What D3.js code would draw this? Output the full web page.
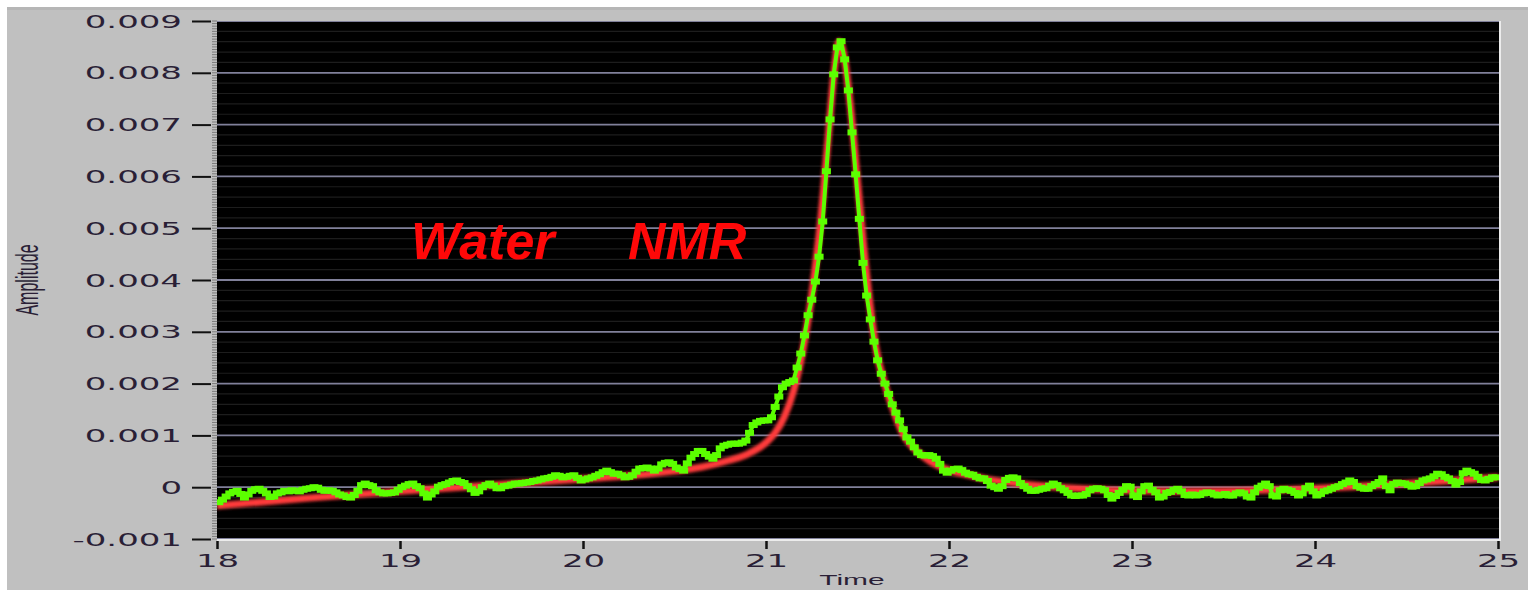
<!DOCTYPE html>
<html>
<head>
<meta charset="utf-8">
<script src="https://cdn.jsdelivr.net/npm/d3@7"></script>
<style>
  html, body { margin: 0; padding: 0; background: #c0c0c0; overflow: hidden; }
  svg { display: block; }
</style>
</head>
<body>
<svg id="chart" width="1528" height="590"></svg>
<script>
// ---- axis ticks ----
const xTickValues = [18, 19, 20, 21, 22, 23, 24, 25];
const xTickLabels = ["18", "19", "20", "21", "22", "23", "24", "25"];
// amplitude is kept in units of 1e-3
const yTickValues = [-1, 0, 1, 2, 3, 4, 5, 6, 7, 8, 9];
const yTickLabels = ["-0.001", "0", "0.001", "0.002", "0.003", "0.004",
                     "0.005", "0.006", "0.007", "0.008", "0.009"];

// ---- measured echo signal (green), sampled every 0.02 from t = 18.01 ----
const measuredStart = 18.01;
const measuredStep = 0.02;
const measuredAmp = [
  -0.29,-0.24,-0.18,-0.12,-0.09,-0.07,-0.13,-0.20,-0.14,-0.07,
  -0.04,-0.03,-0.07,-0.12,-0.19,-0.18,-0.12,-0.10,-0.07,-0.08,
  -0.06,-0.07,-0.08,-0.05,-0.03,-0.02,0.00,-0.01,-0.05,-0.07,
  -0.06,-0.07,-0.10,-0.14,-0.16,-0.19,-0.20,-0.15,-0.07,0.04,
  0.07,0.04,0.02,-0.06,-0.10,-0.12,-0.12,-0.11,-0.10,-0.05,
  0.00,0.03,0.06,0.07,0.02,-0.02,-0.12,-0.20,-0.14,-0.08,
  0.01,0.04,0.06,0.09,0.12,0.13,0.10,0.08,0.02,-0.04,
  -0.11,-0.08,0.00,0.04,0.07,0.03,-0.02,-0.02,0.02,0.03,
  0.05,0.07,0.07,0.08,0.09,0.10,0.12,0.13,0.15,0.17,
  0.18,0.20,0.23,0.22,0.19,0.20,0.22,0.23,0.18,0.13,
  0.15,0.17,0.19,0.22,0.25,0.29,0.32,0.29,0.26,0.26,
  0.23,0.19,0.20,0.23,0.30,0.36,0.37,0.38,0.36,0.32,
  0.36,0.44,0.47,0.48,0.45,0.38,0.35,0.32,0.46,0.57,
  0.64,0.70,0.70,0.64,0.59,0.55,0.62,0.75,0.80,0.82,
  0.84,0.84,0.84,0.86,0.90,1.05,1.20,1.25,1.28,1.29,
  1.29,1.35,1.55,1.75,1.93,2.00,2.03,2.06,2.31,2.58,
  2.93,3.32,3.62,3.97,4.45,5.13,6.10,7.10,7.97,8.49,
  8.61,8.26,7.66,6.85,6.04,5.18,4.33,3.70,3.24,2.81,
  2.45,2.19,2.00,1.80,1.60,1.44,1.29,1.12,0.96,0.88,
  0.77,0.67,0.62,0.61,0.62,0.60,0.55,0.45,0.32,0.28,
  0.32,0.35,0.36,0.33,0.28,0.25,0.24,0.20,0.17,0.17,
  0.12,0.03,0.00,-0.03,0.02,0.14,0.18,0.19,0.17,0.08,
  0.02,-0.03,-0.07,-0.07,-0.05,-0.03,-0.02,0.03,0.07,0.04,
  -0.02,-0.06,-0.11,-0.16,-0.17,-0.16,-0.16,-0.13,-0.06,-0.03,
  -0.02,-0.03,-0.06,-0.15,-0.22,-0.17,-0.11,-0.05,0.02,0.01,
  -0.16,-0.19,-0.08,0.02,0.03,-0.05,-0.10,-0.20,-0.18,-0.11,
  -0.09,-0.05,-0.03,-0.08,-0.15,-0.16,-0.14,-0.16,-0.15,-0.12,
  -0.10,-0.11,-0.14,-0.16,-0.15,-0.13,-0.16,-0.16,-0.12,-0.10,
  -0.12,-0.18,-0.20,-0.10,-0.01,0.03,0.07,0.02,-0.16,-0.18,
  -0.06,-0.03,-0.05,-0.07,-0.11,-0.16,-0.12,-0.02,0.03,-0.08,
  -0.16,-0.13,-0.08,-0.06,-0.03,0.00,0.02,0.06,0.09,0.13,
  0.10,0.02,-0.01,-0.03,-0.03,0.02,0.06,0.10,0.17,0.02,
  -0.06,0.06,0.09,0.08,0.07,0.04,0.01,0.02,0.08,0.13,
  0.15,0.17,0.21,0.26,0.25,0.20,0.17,0.12,0.05,0.10,
  0.27,0.32,0.29,0.26,0.20,0.14,0.13,0.16,0.19,0.19
];

// ---- fitted line shape (red) ----
const fitTime = [18.0, 18.5, 19.0, 19.5, 20.0, 20.25, 20.5, 20.65, 20.8, 20.9,
                 21.0, 21.05, 21.1, 21.15, 21.2, 21.25, 21.3, 21.34, 21.37, 21.4,
                 21.43, 21.46, 21.5, 21.55, 21.6, 21.65, 21.7, 21.75, 21.8, 21.85,
                 21.9, 22.0, 22.1, 22.2, 22.4, 22.6, 22.8, 23.0, 23.3, 23.6,
                 23.9, 24.2, 24.5, 24.8, 25.0];
const fitAmp  = [-0.36, -0.21, -0.08, 0.04, 0.16, 0.22, 0.31, 0.39, 0.52, 0.64,
                 0.86, 1.05, 1.36, 1.85, 2.62, 3.72, 5.20, 6.75, 7.95, 8.60,
                 8.25, 7.40, 5.90, 4.10, 2.70, 1.98, 1.45, 1.02, 0.78, 0.62,
                 0.49, 0.33, 0.24, 0.16, 0.06, 0.00, -0.04, -0.07, -0.08, -0.07,
                 -0.04, 0.01, 0.07, 0.14, 0.19];

const annotationWords = ["Water", "NMR"];

// ---- layout ----
const W = 1528, H = 590;
const plot = { left: 217, right: 1499, top: 21, bottom: 539 };

const svg = d3.select("#chart");
const x = d3.scaleLinear().domain([18, 25]).range([plot.left, plot.right - 1]);
const y = d3.scaleLinear().domain([-1, 9]).range([plot.bottom, plot.top]);

// panel background and window edges
svg.append("rect").attr("width", W).attr("height", H).attr("fill", "#c0c0c0");
svg.append("rect").attr("x", 0).attr("y", 7).attr("width", W).attr("height", 3).attr("fill", "#b6b6b6");
svg.append("rect").attr("x", 0).attr("y", 0).attr("width", W).attr("height", 7).attr("fill", "#ffffff");
svg.append("rect").attr("x", 0).attr("y", 0).attr("width", 7).attr("height", H).attr("fill", "#ffffff");

const defs = svg.append("defs");
defs.append("clipPath").attr("id", "plotClip")
  .append("rect").attr("x", plot.left).attr("y", plot.top)
  .attr("width", plot.right - plot.left).attr("height", plot.bottom - plot.top);
const glow = defs.append("filter").attr("id", "soft")
  .attr("x", "-5%").attr("y", "-5%").attr("width", "110%").attr("height", "110%");
glow.append("feGaussianBlur").attr("stdDeviation", 1.4);
const softLine = defs.append("filter").attr("id", "softLine");
softLine.append("feGaussianBlur").attr("stdDeviation", 0.5);

// plot area
svg.append("rect")
  .attr("x", plot.left).attr("y", plot.top)
  .attr("width", plot.right - plot.left).attr("height", plot.bottom - plot.top)
  .attr("fill", "#000");

const grid = svg.append("g").attr("clip-path", "url(#plotClip)");

// minor grid (5 divisions per major step)
const minorX = d3.range(18, 25.0001, 0.2).filter(v => Math.abs(v - Math.round(v)) > 1e-6);
const minorY = d3.range(-1, 9.0001, 0.2).filter(v => Math.abs(v - Math.round(v)) > 1e-6);
grid.selectAll(".mx").data(minorX).join("line")
  .attr("x1", d => x(d)).attr("x2", d => x(d))
  .attr("y1", plot.top).attr("y2", plot.bottom)
  .attr("stroke", "#2e2e2e").attr("stroke-width", 3.5).attr("filter", "url(#softLine)");
grid.selectAll(".my").data(minorY).join("line")
  .attr("x1", plot.left).attr("x2", plot.right)
  .attr("y1", d => y(d)).attr("y2", d => y(d))
  .attr("stroke", "#1d1d1d").attr("stroke-width", 1.2);

// major grid
grid.selectAll(".gx").data(xTickValues).join("line")
  .attr("x1", d => x(d)).attr("x2", d => x(d))
  .attr("y1", plot.top).attr("y2", plot.bottom)
  .attr("stroke", "#8686a4").attr("stroke-width", 3.5).attr("filter", "url(#softLine)");
grid.selectAll(".gy").data(yTickValues).join("line")
  .attr("x1", plot.left).attr("x2", plot.right)
  .attr("y1", d => y(d)).attr("y2", d => y(d))
  .attr("stroke", "#80809a").attr("stroke-width", 1.8);

// fine ruler marks along the left edge of the plot
const ruler = d3.range(-1, 9.0001, 0.05);
svg.append("g").selectAll("line").data(ruler).join("line")
  .attr("x1", 212).attr("x2", 217)
  .attr("y1", d => y(d)).attr("y2", d => y(d))
  .attr("stroke", "#7a7a7a").attr("stroke-width", 1);

// frame highlight (right and bottom)
svg.append("line").attr("x1", plot.right + 1).attr("x2", plot.right + 1)
  .attr("y1", plot.top).attr("y2", plot.bottom + 2)
  .attr("stroke", "#ececec").attr("stroke-width", 2);
svg.append("line").attr("x1", plot.left).attr("x2", plot.right + 2)
  .attr("y1", plot.bottom + 1).attr("y2", plot.bottom + 1)
  .attr("stroke", "#ececec").attr("stroke-width", 2);

// ---- series ----
const series = svg.append("g").attr("clip-path", "url(#plotClip)");

const fitPoints = fitTime.map((t, i) => [t, fitAmp[i]]);
const fitLine = d3.line().x(d => x(d[0])).y(d => y(d[1])).curve(d3.curveMonotoneX);
series.append("path").datum(fitPoints)
  .attr("d", fitLine)
  .attr("fill", "none").attr("stroke", "#ff3a3a")
  .attr("stroke-width", 7).attr("stroke-linejoin", "round")
  .attr("filter", "url(#soft)");

const measuredPoints = measuredAmp.map((v, i) => [measuredStart + i * measuredStep, v]);
const measLine = d3.line().x(d => x(d[0])).y(d => y(d[1]));
series.append("path").datum(measuredPoints)
  .attr("d", measLine)
  .attr("fill", "none").attr("stroke", "#5cff00")
  .attr("stroke-width", 4).attr("stroke-linejoin", "round");
series.selectAll(".mk").data(measuredPoints).join("rect")
  .attr("x", d => x(d[0]) - 4.5).attr("y", d => y(d[1]) - 3)
  .attr("width", 9).attr("height", 6)
  .attr("fill", "#5cff00");

// ---- annotations ----
svg.selectAll(".note").data(annotationWords).join("text")
  .attr("x", (d, i) => [411, 628][i])
  .attr("y", 259)
  .attr("font-family", "Liberation Sans, Arial, sans-serif")
  .attr("font-weight", "bold").attr("font-style", "italic")
  .attr("font-size", 52)
  .attr("fill", "#ff0808")
  .text(d => d);

// ---- axes ----
const textColor = "#2a1f36";

const gY = svg.append("g").attr("transform", "translate(211,0)")
  .call(d3.axisLeft(y).tickValues(yTickValues).tickSize(19)
        .tickFormat((d, i) => yTickLabels[i]));
gY.select(".domain").remove();
gY.selectAll(".tick line").attr("stroke", "#111").attr("stroke-width", 2);
gY.selectAll(".tick text")
  .attr("x", 0).attr("dy", "0.36em")
  .attr("transform", "translate(-29,0) scale(2,1)")
  .attr("font-family", "DejaVu Sans, Verdana, sans-serif")
  .attr("font-size", 17).attr("fill", textColor).attr("text-anchor", "end");

const gX = svg.append("g").attr("transform", `translate(0,${plot.bottom + 2})`)
  .call(d3.axisBottom(x).tickValues(xTickValues).tickSize(8)
        .tickFormat((d, i) => xTickLabels[i]));
gX.select(".domain").remove();
gX.selectAll(".tick line").attr("stroke", "#111").attr("stroke-width", 2.5);
gX.selectAll(".tick text")
  .attr("y", 0).attr("dy", 0)
  .attr("transform", "translate(0,26) scale(2,1)")
  .attr("font-family", "DejaVu Sans, Verdana, sans-serif")
  .attr("font-size", 17).attr("fill", textColor).attr("text-anchor", "middle");

// axis titles
svg.append("text")
  .attr("transform", "translate(852,585) scale(2,1)")
  .attr("text-anchor", "middle")
  .attr("font-family", "Liberation Sans, Arial, sans-serif")
  .attr("font-size", 15).attr("fill", textColor)
  .text("Time");
svg.append("text")
  .attr("transform", "translate(38,280) scale(2,1) rotate(-90)")
  .attr("text-anchor", "middle")
  .attr("font-family", "Liberation Sans, Arial, sans-serif")
  .attr("font-size", 16).attr("fill", textColor)
  .text("Amplitude");
</script>
</body>
</html>
